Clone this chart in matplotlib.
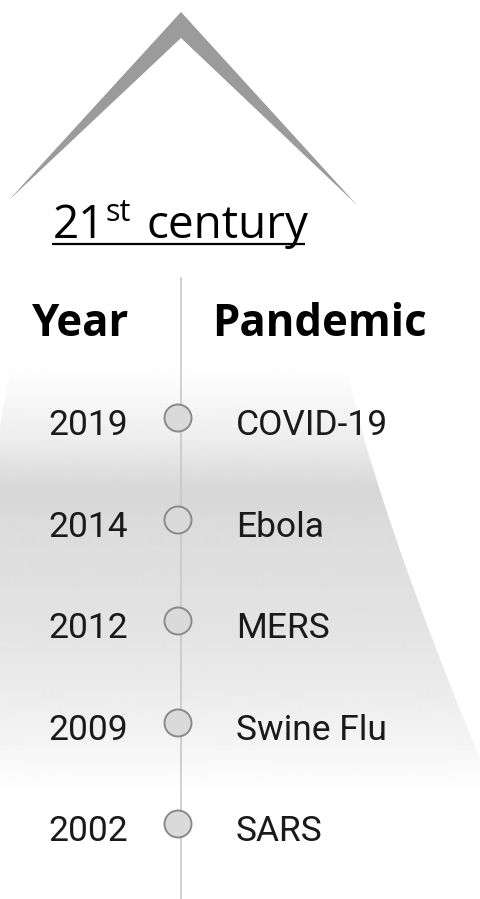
import numpy as np
import matplotlib.pyplot as plt
from matplotlib.patches import Polygon, Circle

# data
years = ["2019", "2014", "2012", "2009", "2002"]
pandemics = ["COVID-19", "Ebola", "MERS", "Swine Flu", "SARS"]
row_y = [418, 520, 621, 723, 824]

W, H = 481, 899
fig = plt.figure(figsize=(W / 100, H / 100), dpi=100)
ax = fig.add_axes([0, 0, 1, 1])
ax.set_xlim(0, W)
ax.set_ylim(H, 0)
ax.axis("off")

# chevron on top
chev = Polygon([(9, 200), (181, 12), (357, 205), (181, 38)], closed=True,
               facecolor="#9b9b9b", edgecolor="none")
ax.add_patch(chev)

# grey gradient shape behind the rows
gy = np.array([0, 365, 400, 440, 490, 530, 600, 650, 700, 740, 770, 795, 899])
gv = np.array([255, 255, 247, 237, 215, 220, 225, 230, 237, 244, 250, 255, 255])
yy = np.arange(0, H)
col = np.interp(yy, gy, gv) / 255.0
img = np.repeat(col[:, None], 2, axis=1)
im = ax.imshow(img, cmap="gray", vmin=0, vmax=1, extent=[0, W, H, 0],
               aspect="auto", interpolation="bilinear", zorder=0)
ey = np.linspace(365, 820, 60)
right_x = np.minimum(347 + 0.0907 * (ey - 365) ** 1.22, W + 5)
left_x = np.maximum(13 * (1 - (ey - 365) / 67) ** 1.5, 0)
left_x[ey > 432] = 0
shape = list(zip(right_x, ey)) + list(zip(left_x[::-1], ey[::-1]))
clip = Polygon(shape, closed=True, transform=ax.transData)
im.set_clip_path(clip)

# title
tf = "Open Sans"
ax.text(53, 238, "21", fontsize=33, family=tf, ha="left", va="baseline")
ax.text(106, 221, "st", fontsize=22, family=tf, ha="left", va="baseline")
ax.text(147, 238, "century", fontsize=33, family=tf, ha="left", va="baseline")
ax.plot([52, 305], [243.5, 243.5], color="black", lw=1.6, solid_capstyle="butt")

# timeline line
ax.plot([181, 181], [278, H], color="#c8c8c8", lw=1.2, zorder=1)

# headers
hf = "Open Sans"
ax.text(32, 336, "Year", fontsize=31.5, family=hf, weight="bold",
        ha="left", va="baseline")
ax.text(212, 336, "Pandemic", fontsize=31.5, family=hf, weight="bold",
        ha="left", va="baseline")

# rows
bf = "Roboto"
for y, yr, name in zip(row_y, years, pandemics):
    ax.add_patch(Circle((178, y), 13.5, facecolor="#dadada", edgecolor="#8a8a8a",
                        lw=1.4, zorder=3))
    ax.text(48, y + 17, yr, fontsize=25.5, family=bf,
            ha="left", va="baseline", color="#1a1a1a")
    ax.text(236, y + 17, name, fontsize=25.5, family=bf,
            ha="left", va="baseline", color="#1a1a1a")

fig.savefig("out.png", dpi=100)
